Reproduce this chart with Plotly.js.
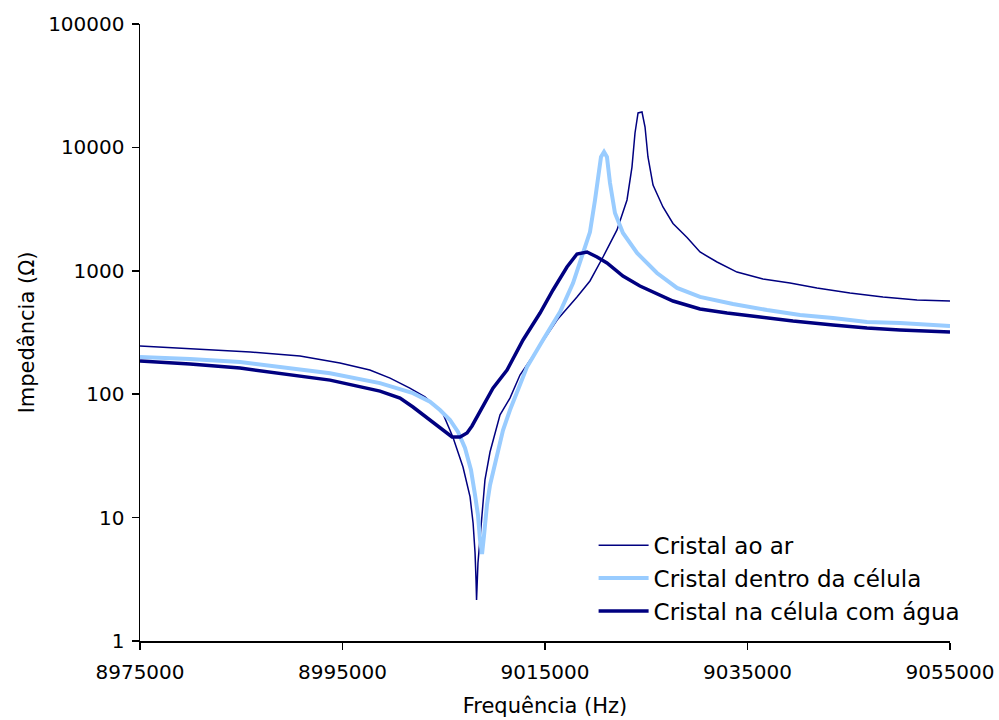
<!DOCTYPE html>
<html>
<head>
<meta charset="utf-8">
<script src="https://cdn.plot.ly/plotly-3.0.1.min.js"></script>
<style>html,body{margin:0;padding:0;background:#fff;}#chart{width:999px;height:720px;}</style>
</head>
<body>
<div id="chart"></div>
<script>
// Cristal ao ar
const freqAr = [8975000, 8981000, 8985900, 8990800, 8994750, 8997700, 8999700, 9001650, 9003150, 9004900, 9005900, 9006900, 9007600, 9007900, 9008090, 9008190, 9008240, 9008380, 9008780, 9009070, 9009570, 9010560, 9011540, 9012530, 9014210, 9016190, 9018160, 9019440, 9020730, 9022110, 9023100, 9023590, 9023890, 9024190, 9024580, 9024880, 9025170, 9025670, 9026650, 9027640, 9029030, 9030310, 9031990, 9033960, 9036530, 9039200, 9041860, 9045120, 9048380, 9051740, 9055000];
const impAr = [246, 232, 220, 204, 179, 157, 135, 112, 95, 70, 45, 25.7, 14.7, 9.0, 5.2, 3.1, 2.15, 4.3, 10.9, 20.2, 34, 68, 93, 143, 228, 399, 614, 827, 1294, 2143, 3750, 6930, 13090, 19010, 19360, 14630, 8360, 4955, 3288, 2420, 1862, 1420, 1178, 977, 858, 797, 726, 661, 614, 580, 569];

// Cristal dentro da célula
const freqCel = [8975000, 8979940, 8984880, 8988830, 8993770, 8998700, 9001960, 9003640, 9004630, 9005620, 9006410, 9007100, 9007690, 9008090, 9008380, 9008580, 9008780, 9008980, 9009270, 9009570, 9010160, 9010850, 9011540, 9012530, 9013220, 9014800, 9016480, 9017770, 9018460, 9019150, 9019440, 9019940, 9020240, 9020530, 9020830, 9021120, 9021420, 9021910, 9022700, 9024090, 9026060, 9028040, 9030310, 9033570, 9036930, 9040190, 9043440, 9046800, 9050060, 9053320, 9055000];
const impCel = [200, 193, 182, 166, 148, 123, 102, 87, 74.5, 61.8, 49.4, 36.7, 24.3, 15.2, 10.5, 6.6, 5.07, 7.2, 12.7, 18.4, 30.4, 51, 74.5, 119, 166, 275, 464, 796, 1178, 1778, 2061, 3750, 5975, 8360, 9180, 8360, 5150, 2940, 2025, 1394, 960, 726, 614, 538, 481, 438, 415, 385, 378, 364, 357];

// Cristal na célula com água
const freqAgua = [8975000, 8979940, 8984880, 8988830, 8993770, 8998700, 9000680, 9001960, 9003640, 9004930, 9005820, 9006610, 9007300, 9007790, 9008280, 9009070, 9009860, 9011250, 9012830, 9014510, 9015790, 9017170, 9018160, 9019150, 9020140, 9021120, 9022700, 9024380, 9026060, 9027640, 9030310, 9032980, 9036240, 9039490, 9043440, 9046800, 9050060, 9053320, 9055000];
const impAgua = [186, 176, 163, 148, 130, 106, 93, 78.7, 61.8, 50.3, 45, 45, 48.5, 55.3, 65.3, 86.4, 112, 157, 275, 455, 699, 1074, 1368, 1420, 1294, 1157, 907, 753, 649, 569, 490, 455, 423, 392, 364, 344, 332, 325, 319];

const seriesNames = ["Cristal ao ar", "Cristal dentro da célula", "Cristal na célula com água"];
const xTicks = [8975000, 8995000, 9015000, 9035000, 9055000];
const xTickText = ["8975000", "8995000", "9015000", "9035000", "9055000"];
const yTicks = [1, 10, 100, 1000, 10000, 100000];
const yTickText = ["1", "10", "100", "1000", "10000", "100000"];

const FONT = "DejaVu Sans, Verdana, sans-serif";

const traces = [
  {x: freqAr, y: impAr, name: seriesNames[0], legendgroup: "a", mode: "lines", line: {color: "#000080", width: 1.5}},
  {x: freqCel, y: impCel, name: seriesNames[1], legendgroup: "b", mode: "lines", line: {color: "#99CCFF", width: 4}},
  {x: freqAgua, y: impAgua, name: seriesNames[2], legendgroup: "c", mode: "lines", line: {color: "#000080", width: 3.5}}
];

const layout = {
  width: 999, height: 720,
  margin: {l: 140, r: 49, t: 24, b: 79},
  paper_bgcolor: "#fff", plot_bgcolor: "#fff",
  font: {family: FONT, size: 20, color: "#000"},
  showlegend: true,
  legend: {x: 0.56, y: 0.19, xanchor: "left", yanchor: "top", bgcolor: "rgba(0,0,0,0)",
           font: {family: FONT, size: 23, color: "#000"}, itemwidth: 50, tracegroupgap: 0, traceorder: "grouped"},
  xaxis: {
    range: [8975000, 9055000], tickvals: xTicks, ticktext: xTickText,
    showgrid: false, zeroline: false, showline: true, linecolor: "#000", linewidth: 1.5,
    ticks: "outside", ticklen: 7, tickwidth: 1.5, tickcolor: "#000",
    ticklabelstandoff: 5,
    tickfont: {family: FONT, size: 20, color: "#000"},
    title: {text: "Frequência (Hz)", font: {family: FONT, size: 21, color: "#000"}, standoff: 16}
  },
  yaxis: {
    type: "log", range: [0, 5], tickvals: yTicks, ticktext: yTickText,
    showgrid: false, zeroline: false, showline: true, linecolor: "#000", linewidth: 1.5,
    ticks: "outside", ticklen: 7, tickwidth: 1.5, tickcolor: "#000",
    ticklabelstandoff: 3,
    tickfont: {family: FONT, size: 20, color: "#000"},
    title: {text: "Impedância (Ω)", font: {family: FONT, size: 21, color: "#000"}, standoff: 8}
  }
};

Plotly.newPlot("chart", traces, layout, {staticPlot: true, displayModeBar: false});
</script>
</body>
</html>
